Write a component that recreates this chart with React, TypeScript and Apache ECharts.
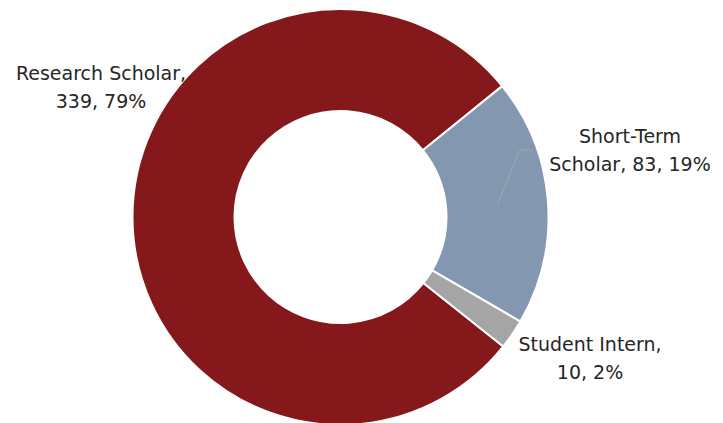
import React, { useEffect, useRef } from "react";
import * as echarts from "echarts";

const categories = ["Research Scholar", "Short-Term Scholar", "Student Intern"];
const values = [339, 83, 10];
const percents = ["79%", "19%", "2%"];
const labelTexts = ["Research Scholar,\n339, 79%", "Short-Term\nScholar, 83, 19%", "Student Intern,\n10, 2%"];
const colors = ["#85181A", "#8497B0", "#A5A5A5"];

const CX = 340.5;
const CY = 217;
const R_IN = 106;
const R_OUT = 208;
const START = -38.5;
const labelPos = [
  [101, 87],
  [630, 150],
  [590, 358],
];

export default function App() {
  const ref = useRef<HTMLDivElement>(null);
  useEffect(() => {
    document.body.style.margin = "0";
    const chart = echarts.init(ref.current!, null, { renderer: "svg" });
    const total = values.reduce((a, b) => a + b, 0);
    const before = values[0];
    const midDeg = START - ((before + values[1] / 2) / total) * 360;
    const rad = (midDeg * Math.PI) / 180;
    const rMid = (R_IN + R_OUT) / 2;
    const sx = CX + rMid * Math.cos(rad);
    const sy = CY - rMid * Math.sin(rad);
    chart.setOption({
      animation: false,
      backgroundColor: "#ffffff",
      graphic: [
        {
          type: "polyline",
          z: 10,
          shape: {
            points: [
              [sx, sy],
              [labelPos[1][0] - 110, labelPos[1][1]],
              [labelPos[1][0] - 98, labelPos[1][1]],
            ],
          },
          style: { stroke: "#A6A6A6", lineWidth: 1, fill: "none" },
        },
      ],
      series: [
        {
          type: "pie",
          center: [CX, CY],
          radius: [R_IN, R_OUT],
          startAngle: START,
          clockwise: true,
          avoidLabelOverlap: false,
          itemStyle: { borderColor: "#ffffff", borderWidth: 2 },
          label: {
            show: true,
            position: "outside",
            formatter: (p: any) => labelTexts[p.dataIndex],
            fontFamily: "DejaVu Sans",
            fontSize: 19,
            lineHeight: 28,
            color: "#262626",
            align: "center",
          },
          labelLine: { show: false },
          labelLayout: (p: any) => ({
            x: labelPos[p.dataIndex][0],
            y: labelPos[p.dataIndex][1],
            align: "center",
            verticalAlign: "middle",
          }),
          emphasis: { disabled: true },
          data: categories.map((c, i) => ({
            name: c,
            value: values[i],
            percent: percents[i],
            itemStyle: { color: colors[i] },
          })),
        },
      ],
    });
    return () => chart.dispose();
  }, []);
  return <div ref={ref} style={{ width: 723, height: 423 }} />;
}
